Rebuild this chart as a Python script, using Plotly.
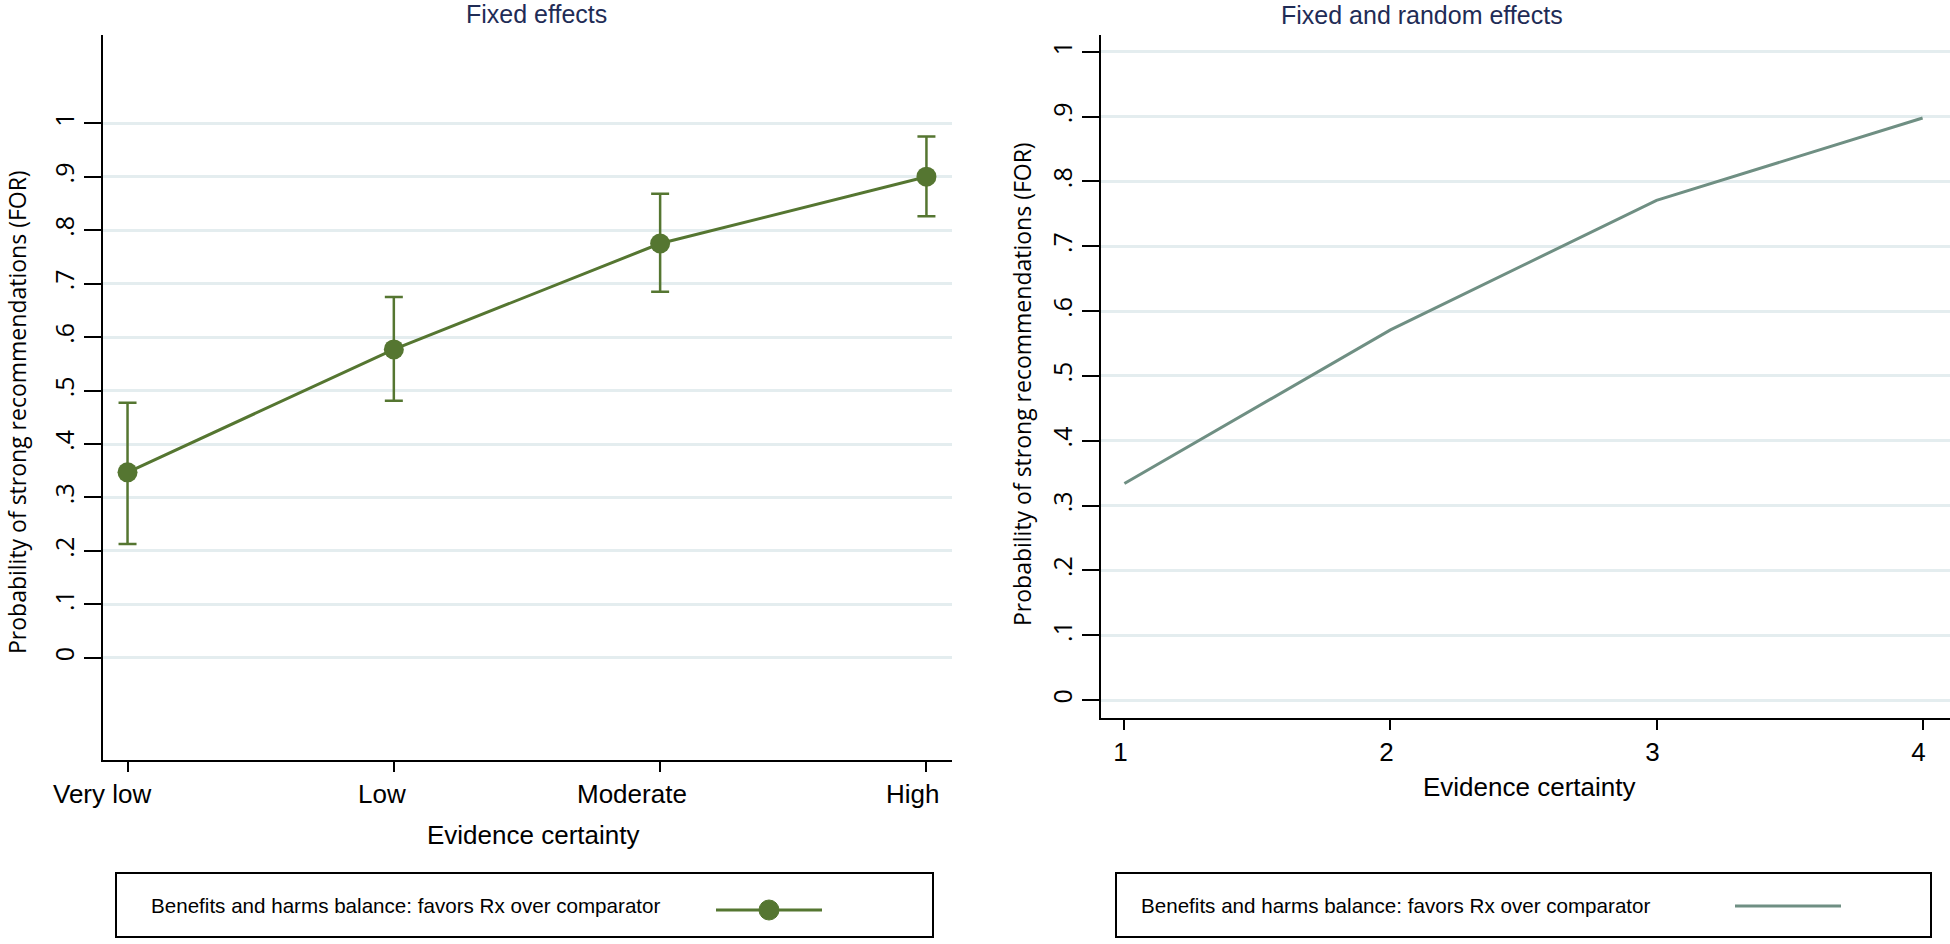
import plotly.graph_objects as go

# ---------------- data ----------------
categories = ["Very low", "Low", "Moderate", "High"]
fixed_prob = [0.347, 0.577, 0.775, 0.900]
fixed_upper = [0.477, 0.675, 0.868, 0.975]
fixed_lower = [0.213, 0.481, 0.685, 0.826]

re_x = [1, 2, 3, 4]
re_prob = [0.334, 0.571, 0.771, 0.898]

y_ticks = [0, 0.1, 0.2, 0.3, 0.4, 0.5, 0.6, 0.7, 0.8, 0.9, 1]
y_ticktext = ["0", ".1", ".2", ".3", ".4", ".5", ".6", ".7", ".8", ".9", "1"]
x2_ticks = [1, 2, 3, 4]
x2_ticktext = ["1", "2", "3", "4"]

title_left = "Fixed effects"
title_right = "Fixed and random effects"
x_title = "Evidence certainty"
y_title = "Probability of strong recommendations (FOR)"
legend_label = "Benefits and harms balance: favors Rx over comparator"

# ---------------- style ----------------
W, H = 1950, 944
GREEN = "#557631"
GREYGREEN = "#6f8f83"
GRID = "#e4edef"
NAVY = "#1f2c56"
ARIAL = "Arial, Liberation Sans, sans-serif"
OPEN = "Open Sans, Noto Sans, sans-serif"
# Stata-style left offset of the category tick labels (pixels)
CAT_LABEL_SHIFT = [-26, -12, -28, -14]


def px(x):
    return x / W


def py(y):
    return 1 - y / H


err_plus = [u - p for u, p in zip(fixed_upper, fixed_prob)]
err_minus = [p - l for p, l in zip(fixed_prob, fixed_lower)]

fig = go.Figure()

fig.add_trace(go.Scatter(
    x=categories, y=fixed_prob, mode="lines+markers",
    line=dict(color=GREEN, width=3),
    marker=dict(color=GREEN, size=20),
    error_y=dict(type="data", array=err_plus, arrayminus=err_minus,
                 color=GREEN, thickness=2.5, width=9),
    xaxis="x", yaxis="y", showlegend=False, cliponaxis=False,
))

fig.add_trace(go.Scatter(
    x=re_x, y=re_prob, mode="lines",
    line=dict(color=GREYGREEN, width=3),
    xaxis="x2", yaxis="y2", showlegend=False,
))

common_y = dict(
    tickvals=y_ticks, ticktext=y_ticktext, tickangle=-90,
    ticks="outside", ticklen=17, tickwidth=2, tickcolor="black",
    showgrid=True, gridcolor=GRID, gridwidth=2.5,
    showline=True, linecolor="black", linewidth=2,
    zeroline=False, tickfont=dict(family=OPEN, size=25, color="black"),
    fixedrange=True, automargin=False,
)
common_x = dict(
    ticks="outside", ticklen=10, tickwidth=2, tickcolor="black",
    showgrid=False, showline=True, linecolor="black", linewidth=2,
    zeroline=False, tickfont=dict(family=ARIAL, size=26, color="black"),
    fixedrange=True, automargin=False,
)

fig.update_layout(
    template="none",
    width=W, height=H,
    margin=dict(l=0, r=0, t=0, b=0, pad=0, autoexpand=False),
    paper_bgcolor="white", plot_bgcolor="white",
    showlegend=False,
    xaxis=dict(domain=[px(102.5), px(952)], type="category",
               categoryarray=categories, range=[-0.094, 3.096],
               showticklabels=False, anchor="y", **common_x),
    yaxis=dict(domain=[py(760), py(35)], range=[-0.191, 1.165],
               anchor="x", **common_y),
    xaxis2=dict(domain=[px(1101), px(1950)], range=[0.912, 4.103],
                tickvals=x2_ticks, ticktext=x2_ticktext, ticklabelshift=-4,
                anchor="y2", **common_x),
    yaxis2=dict(domain=[py(717.5), py(35)], range=[-0.027, 1.026],
                anchor="x2", **common_y),
)

ann = []
# category tick labels of the left panel
for cat, shift in zip(categories, CAT_LABEL_SHIFT):
    ann.append(dict(text=cat, x=cat, y=py(794), xref="x", yref="paper",
                    xshift=shift, showarrow=False,
                    font=dict(family=ARIAL, size=26, color="black"),
                    xanchor="center", yanchor="middle"))
ann.append(dict(text=title_left, x=px(536), y=py(14), xref="paper", yref="paper",
                showarrow=False, font=dict(family=ARIAL, size=25, color=NAVY),
                xanchor="center", yanchor="middle"))
ann.append(dict(text=title_right, x=px(1422), y=py(15), xref="paper", yref="paper",
                showarrow=False, font=dict(family=ARIAL, size=25, color=NAVY),
                xanchor="center", yanchor="middle"))
ann.append(dict(text=x_title, x=px(533), y=py(835), xref="paper", yref="paper",
                showarrow=False, font=dict(family=ARIAL, size=26, color="black"),
                xanchor="center", yanchor="middle"))
ann.append(dict(text=x_title, x=px(1529), y=py(787), xref="paper", yref="paper",
                showarrow=False, font=dict(family=ARIAL, size=26, color="black"),
                xanchor="center", yanchor="middle"))
ann.append(dict(text=y_title, x=px(17), y=py(412), xref="paper", yref="paper",
                showarrow=False, textangle=-90,
                font=dict(family=OPEN, size=23, color="black"),
                xanchor="center", yanchor="middle"))
ann.append(dict(text=y_title, x=px(1022), y=py(384), xref="paper", yref="paper",
                showarrow=False, textangle=-90,
                font=dict(family=OPEN, size=23, color="black"),
                xanchor="center", yanchor="middle"))
ann.append(dict(text=legend_label, x=px(149), y=py(905), xref="paper", yref="paper",
                showarrow=False, font=dict(family=ARIAL, size=20.6, color="black"),
                xanchor="left", yanchor="middle"))
ann.append(dict(text=legend_label, x=px(1139), y=py(905), xref="paper", yref="paper",
                showarrow=False, font=dict(family=ARIAL, size=20.6, color="black"),
                xanchor="left", yanchor="middle"))
fig.update_layout(annotations=ann)

shapes = []
# legend boxes
shapes.append(dict(type="rect", xref="paper", yref="paper",
                   x0=px(116), x1=px(933), y0=py(937), y1=py(873),
                   line=dict(color="black", width=2), fillcolor="white", layer="below"))
shapes.append(dict(type="rect", xref="paper", yref="paper",
                   x0=px(1116), x1=px(1931), y0=py(937), y1=py(873),
                   line=dict(color="black", width=2), fillcolor="white", layer="below"))
# legend keys
shapes.append(dict(type="line", xref="paper", yref="paper",
                   x0=px(716), x1=px(822), y0=py(910), y1=py(910),
                   line=dict(color=GREEN, width=3)))
shapes.append(dict(type="circle", xref="paper", yref="paper",
                   x0=px(759), x1=px(779), y0=py(920), y1=py(900),
                   line=dict(color=GREEN, width=1), fillcolor=GREEN))
shapes.append(dict(type="line", xref="paper", yref="paper",
                   x0=px(1735), x1=px(1841), y0=py(906), y1=py(906),
                   line=dict(color=GREYGREEN, width=3)))
fig.update_layout(shapes=shapes)

fig.write_html(
    "out.html",
    config={"responsive": False, "displayModeBar": False},
    post_script="document.body.style.margin='0';document.body.style.overflow='hidden';",
)
